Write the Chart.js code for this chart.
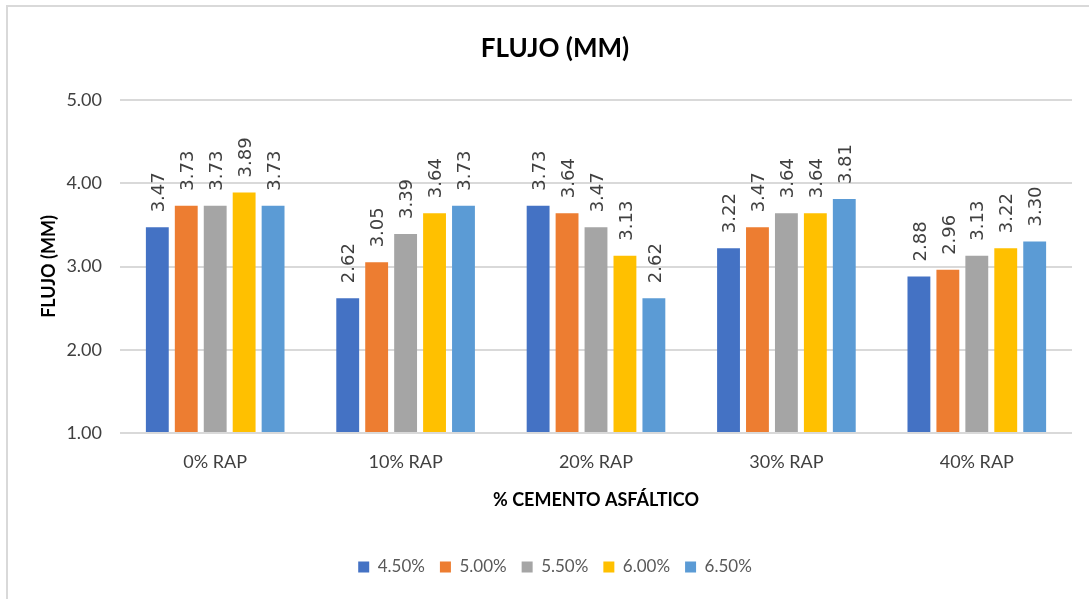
<!DOCTYPE html>
<html>
<head>
<meta charset="utf-8">
<script src="https://cdn.jsdelivr.net/npm/chart.js@4/dist/chart.umd.min.js"></script>
<style>
  html, body { margin: 0; padding: 0; background: #ffffff; }
  #wrap { position: relative; width: 1089px; height: 599px; }
  #frame { position: absolute; left: 6px; top: 5px; right: -4px; bottom: -4px;
           border-left: 2px solid #d9d9d9; border-top: 2px solid #d9d9d9; pointer-events: none; }
</style>
</head>
<body>
<div id="wrap">
  <canvas id="c" width="1089" height="599"></canvas>
  <div id="frame"></div>
</div>
<script>
const categories = ['0% RAP', '10% RAP', '20% RAP', '30% RAP', '40% RAP'];
const seriesNames = ['4.50%', '5.00%', '5.50%', '6.00%', '6.50%'];
const s450 = [3.47, 2.62, 3.73, 3.22, 2.88];
const s500 = [3.73, 3.05, 3.64, 3.47, 2.96];
const s550 = [3.73, 3.39, 3.47, 3.64, 3.13];
const s600 = [3.89, 3.64, 3.13, 3.64, 3.22];
const s650 = [3.73, 3.73, 2.62, 3.81, 3.30];
const yTicks = [1, 2, 3, 4, 5];
const colors = ['#4472C4', '#ED7D31', '#A5A5A5', '#FFC000', '#5B9BD5'];
const seriesValues = [s450, s500, s550, s600, s650];

const datasets = seriesValues.map((vals, i) => ({
  label: seriesNames[i],
  data: vals,
  backgroundColor: colors[i],
  borderWidth: 0,
  base: yTicks[0],
  categoryPercentage: 0.76,
  barPercentage: 0.79
}));

const valueLabels = {
  id: 'valueLabels',
  afterDatasetsDraw(chart) {
    const ctx = chart.ctx;
    ctx.save();
    ctx.font = '18px "DejaVu Sans"';
    ctx.fillStyle = '#404040';
    ctx.textAlign = 'left';
    ctx.textBaseline = 'middle';
    chart.data.datasets.forEach((ds, di) => {
      const meta = chart.getDatasetMeta(di);
      meta.data.forEach((bar, j) => {
        ctx.save();
        ctx.translate(bar.x + 2, bar.y - 15);
        ctx.rotate(-Math.PI / 2);
        ctx.fillText(ds.data[j].toFixed(2), 0, 0);
        ctx.restore();
      });
    });
    ctx.restore();
  }
};

new Chart(document.getElementById('c'), {
  type: 'bar',
  data: { labels: categories, datasets },
  plugins: [valueLabels],
  options: {
    responsive: false,
    animation: false,
    devicePixelRatio: 1,
    layout: { padding: { left: 38, right: 17, top: 0, bottom: 13.5 } },
    plugins: {
      title: {
        display: true,
        text: 'FLUJO (MM)',
        color: '#000000',
        font: { family: 'Lato', size: 26, weight: 'bold', lineHeight: 1.2 },
        padding: { top: 33.4, bottom: 35.4 }
      },
      legend: {
        position: 'bottom',
        labels: {
          boxWidth: 11,
          boxHeight: 11,
          padding: 15,
          color: '#595959',
          font: { family: 'Lato', size: 17 }
        }
      },
      tooltip: { enabled: false }
    },
    scales: {
      x: {
        grid: { display: false, drawTicks: false },
        border: { display: false },
        ticks: { color: '#404040', font: { family: 'Lato', size: 18 }, padding: 18 },
        title: {
          display: true,
          text: '% CEMENTO ASFÁLTICO',
          color: '#000000',
          font: { family: 'Lato', size: 18, weight: 'bold', lineHeight: 1.2 },
          padding: { top: 0, bottom: 32.7 }
        },
        afterFit(scale) { scale.height = 110.5; }
      },
      y: {
        min: yTicks[0],
        max: yTicks[yTicks.length - 1],
        grid: { color: '#d9d9d9', lineWidth: 2, drawTicks: false },
        border: { display: false },
        ticks: {
          stepSize: 1,
          color: '#404040',
          font: { family: 'Lato', size: 18 },
          padding: 18,
          callback: (v) => Number(v).toFixed(2)
        },
        title: {
          display: true,
          text: 'FLUJO (MM)',
          color: '#000000',
          font: { family: 'Lato', size: 18, weight: 'bold', lineHeight: 1.2 },
          padding: { top: 0, bottom: 0 }
        },
        afterFit(scale) { scale.width = 82; }
      }
    }
  }
});
</script>
</body>
</html>
